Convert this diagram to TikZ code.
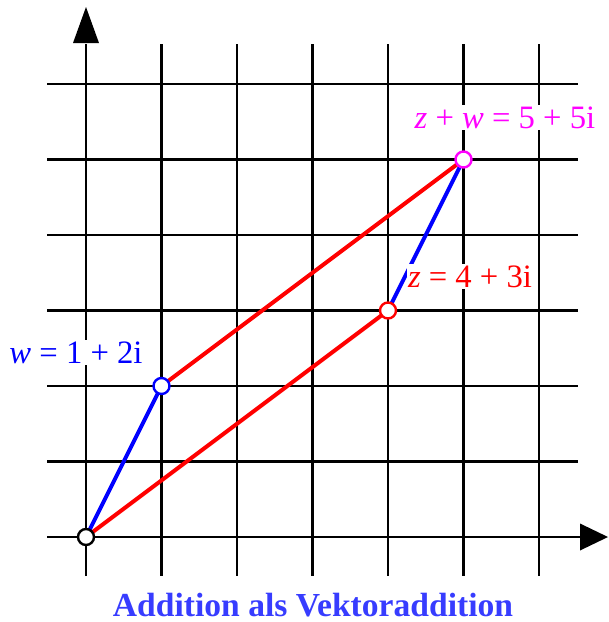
\documentclass[tikz,border=0pt]{standalone}
\usepackage{fontspec}
\setmainfont{Liberation Serif}
\definecolor{titleblue}{RGB}{55,60,255}
\definecolor{mag}{RGB}{255,0,255}
\begin{document}
\begin{tikzpicture}[x=0.75pt,y=-0.75pt,
  gridline/.style={line width=2pt,black},
  vec/.style={line width=3pt},
  pt/.style={circle,draw,fill=white,line width=1.8pt,minimum size=12pt,inner sep=0pt},
  lbl/.style={fill=white,inner sep=1pt,anchor=base,font=\fontsize{24.5}{28}\selectfont},
  ttl/.style={font=\fontsize{25.2}{28}\selectfont\bfseries,text=titleblue,anchor=base,inner sep=0pt}]
\useasboundingbox (0,0) rectangle (608,622);
% grid
\foreach \k in {1,...,6}{
  \draw[gridline] ({86+75.5*\k},44) -- ({86+75.5*\k},576);
  \draw[gridline] (47,{537-75.5*\k}) -- (578,{537-75.5*\k});
}
% axes
\coordinate (ybot) at (86,576);
\coordinate (ytop) at (86,44);
\coordinate (xleft) at (47,537);
\coordinate (xright) at (581,537);
\draw[gridline] (ybot) -- (ytop);
\draw[gridline] (xleft) -- (xright);
\fill (73,43) -- (86,7) -- (99,43) -- cycle;
\fill (580,523.5) -- (608,537) -- (580,550.5) -- cycle;
% points
\coordinate (O) at (86,537);
\coordinate (W) at (161.5,386);
\coordinate (Z) at (388,310.5);
\coordinate (S) at (463.5,159.5);
\draw[vec,blue] (O) -- (W);
\draw[vec,blue] (Z) -- (S);
\draw[vec,red] (O) -- (Z);
\draw[vec,red] (W) -- (S);
\node[pt,draw=black] (o) at (O) {};
\node[pt,draw=blue] (w) at (W) {};
\node[pt,draw=red] (z) at (Z) {};
\node[pt,draw=mag] (s) at (S) {};
% labels
\node[lbl,text=blue] (wl) at (76,363) {\textit{w} = 1 + 2i};
\node[lbl,text=red] (zl) at (470,287) {\textit{z} = 4 + 3i};
\node[lbl,text=mag] (sl) at (505,128) {\textit{z} + \textit{w} = 5 + 5i};
\node[ttl] (title) at (313,616) {Addition als Vektoraddition};
\end{tikzpicture}
\end{document}
